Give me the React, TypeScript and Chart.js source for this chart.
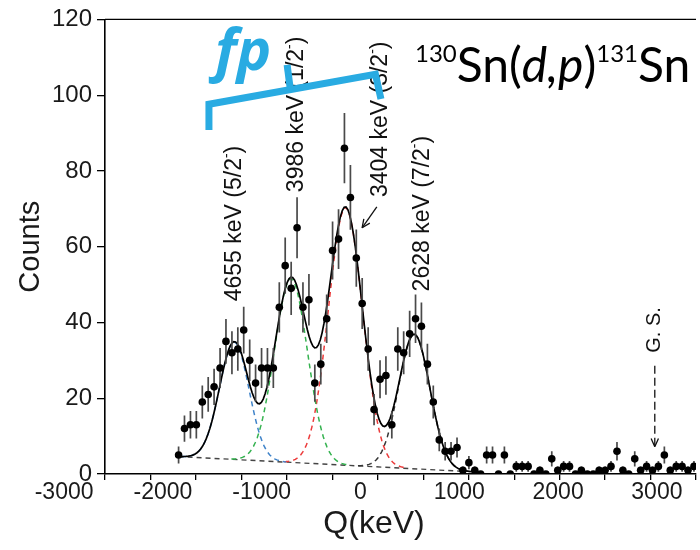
import { useEffect, useRef } from 'react';
import { Chart, registerables } from 'chart.js';

Chart.register(...registerables);

// Q-value bins (keV) of the measured spectrum
const qBins = [
  -2200, -2136, -2071, -2007, -1942, -1878, -1814, -1749, -1685, -1620,
  -1556, -1492, -1427, -1363, -1298, -1234, -1170, -1105, -1041, -976,
  -912, -848, -783, -719, -654, -590, -526, -461, -397, -332,
  -268, -204, -139, -75, -10, 54, 118, 183, 247, 312,
  376, 440, 505, 569, 634, 698, 762, 827, 891, 956,
  1020, 1084, 1149, 1213, 1278, 1342, 1406, 1471, 1535, 1600,
  1664, 1728, 1793, 1857, 1922, 1986, 2050, 2115, 2179, 2244,
  2308, 2372, 2437, 2501, 2566, 2630, 2694, 2759, 2823, 2888,
  2952, 3016, 3081, 3145, 3210, 3274, 3338, 3403,
];

// Counts per bin
const counts = [
  5, 12, 13, 13, 19, 21, 23, 28, 35, 32,
  33, 38, 30, 24, 28, 28, 28, 44, 55, 49,
  65, 44, 46, 24, 29, 41, 59, 62, 86, 73,
  57, 45, 33, 17, 25, 26, 13, 33, 32, 37,
  41, 39, 29, 19, 9, 6, 6, 7, 1, 3,
  1, 0, 5, 5, 0, 5, 0, 2, 2, 2,
  0, 1, 0, 4, 1, 2, 2, 0, 1, 0,
  0, 1, 1, 2, 6, 1, 0, 4, 1, 2,
  1, 2, 5, 1, 2, 2, 1, 2,
];

// Fitted peaks: centroid (keV), width sigma (keV), height (counts)
const peakNames = ['4655 keV', '3986 keV', '3404 keV', '2628 keV'];
const peakSpins = ['5/2', '1/2', '3/2', '7/2'];
const peakCentroids = [-1595, -978, -385, 362];
const peakSigmas = [160, 180, 185, 170];
const peakHeights = [31, 48.5, 68, 35.5];
const peakColors = ['#3f83c9', '#34b24f', '#ec3b3b', '#333333'];

// Label anchors [Q, counts] for the level names (text runs upwards from here)
const peakLabelAnchors: [number, number][] = [
  [-1591, 45.6],
  [-911, 74.4],
  [-3, 73.1],
  [450, 48.2],
];

// Linear background of the fit: [Q, counts] at both ends
const backgroundFrom = [-2200, 4.6];
const backgroundTo = [900, 0.7];

// Q axis labels
const qTickLabels = [-3000, -2000, -1000, 0, 1000, 2000, 3000];
const groundStateQ = 2977;

const FIT_STEP = 20;
const FONT = '"Liberation Sans", Arial, sans-serif';
const BLUE = '#29abe2';
const INK = '#1a1a1a';

function background(q: number) {
  const [q0, c0] = backgroundFrom;
  const [q1, c1] = backgroundTo;
  return Math.max(0, c0 + ((q - q0) * (c1 - c0)) / (q1 - q0));
}

function gauss(q: number, i: number) {
  const d = (q - peakCentroids[i]) / peakSigmas[i];
  return peakHeights[i] * Math.exp(-0.5 * d * d);
}

function fitTotal(q: number) {
  let s = background(q);
  for (let i = 0; i < peakCentroids.length; i++) s += gauss(q, i);
  return s;
}

function sampleRange(from: number, to: number, f: (q: number) => number) {
  const pts: { x: number; y: number }[] = [];
  for (let q = from; q <= to + 0.001; q += FIT_STEP) pts.push({ x: q, y: f(q) });
  return pts;
}

// Rotated label reading upwards; segments flagged true are superscripts
function drawUpLabel(ctx: CanvasRenderingContext2D, x: number, y: number, parts: [string, boolean][], size: number) {
  ctx.save();
  ctx.translate(x, y);
  ctx.rotate(-Math.PI / 2);
  ctx.textBaseline = 'middle';
  ctx.textAlign = 'left';
  let cx = 0;
  for (const [txt, sup] of parts) {
    ctx.font = `${sup ? Math.round(size * 0.6) : size}px ${FONT}`;
    ctx.fillText(txt, cx, sup ? -size * 0.32 : 0);
    cx += ctx.measureText(txt).width;
  }
  ctx.restore();
}

function arrowHead(ctx: CanvasRenderingContext2D, x0: number, y0: number, x1: number, y1: number, len: number) {
  const a = Math.atan2(y1 - y0, x1 - x0);
  ctx.beginPath();
  ctx.moveTo(x1, y1);
  ctx.lineTo(x1 - len * Math.cos(a - 0.42), y1 - len * Math.sin(a - 0.42));
  ctx.moveTo(x1, y1);
  ctx.lineTo(x1 - len * Math.cos(a + 0.42), y1 - len * Math.sin(a + 0.42));
  ctx.stroke();
}

const errorBars = {
  id: 'errorBars',
  beforeDatasetDraw(chart: any, args: any) {
    if (args.index !== 0) return;
    const { ctx, scales } = chart;
    ctx.save();
    ctx.strokeStyle = '#4a4a4a';
    ctx.lineWidth = 1.7;
    ctx.beginPath();
    qBins.forEach((q, i) => {
      const e = Math.sqrt(counts[i]);
      if (e <= 0) return;
      const x = scales.x.getPixelForValue(q);
      ctx.moveTo(x, scales.y.getPixelForValue(counts[i] + e));
      ctx.lineTo(x, scales.y.getPixelForValue(counts[i] - e));
    });
    ctx.stroke();
    ctx.restore();
  },
};

const annotations = {
  id: 'annotations',
  afterDraw(chart: any) {
    const { ctx, scales, chartArea } = chart;
    const X = (q: number) => scales.x.getPixelForValue(q);
    const Y = (c: number) => scales.y.getPixelForValue(c);

    ctx.save();
    // frame line along the top of the plot
    ctx.strokeStyle = '#000';
    ctx.lineWidth = 1.2;
    ctx.beginPath();
    ctx.moveTo(chartArea.left, chartArea.top);
    ctx.lineTo(chartArea.right, chartArea.top);
    ctx.stroke();

    // Q axis numbers, spread slightly wider than the tick marks and anchored at 3000
    ctx.fillStyle = INK;
    ctx.font = `23px ${FONT}`;
    ctx.textAlign = 'center';
    ctx.textBaseline = 'middle';
    const labelPitch = 0.0988;
    qTickLabels.forEach((v) => {
      ctx.fillText(String(v), X(3000) - (3000 - v) * labelPitch, chartArea.bottom + 19);
    });
    ctx.font = `32px ${FONT}`;
    ctx.fillText('Q(keV)', 374, chartArea.bottom + 50);

    // level labels
    ctx.fillStyle = '#111';
    peakLabelAnchors.forEach(([q, c], i) => {
      drawUpLabel(ctx, X(q), Y(c), [[`${peakNames[i]} (${peakSpins[i]}`, false], ['-', true], [')', false]], 23);
    });

    // arrow onto the 3404 keV peak
    ctx.strokeStyle = '#111';
    ctx.lineWidth = 1.3;
    ctx.beginPath();
    ctx.moveTo(X(-45), Y(70.5));
    ctx.lineTo(X(-205), Y(65));
    ctx.stroke();
    arrowHead(ctx, X(-45), Y(70.5), X(-205), Y(65), 9);

    // ground state marker
    drawUpLabel(ctx, X(groundStateQ), Y(32), [['G. S.', false]], 20);
    ctx.setLineDash([8, 4]);
    ctx.beginPath();
    ctx.moveTo(X(groundStateQ), Y(28.6));
    ctx.lineTo(X(groundStateQ), Y(7.4));
    ctx.stroke();
    ctx.setLineDash([]);
    arrowHead(ctx, X(groundStateQ), Y(20), X(groundStateQ), Y(7.2), 9);

    // fp bracket over the 4655 - 3404 keV levels
    ctx.strokeStyle = BLUE;
    ctx.lineWidth = 7;
    ctx.lineJoin = 'miter';
    ctx.beginPath();
    ctx.moveTo(X(-1870), Y(90.8));
    ctx.lineTo(X(-1870), Y(97.6));
    ctx.lineTo(X(-60), Y(105.5));
    ctx.lineTo(X(0), Y(99));
    ctx.stroke();
    ctx.beginPath();
    ctx.moveTo(X(-985), Y(101.5));
    ctx.lineTo(X(-1020), Y(108));
    ctx.stroke();

    ctx.fillStyle = BLUE;
    ctx.font = `italic bold 58px "Open Sans", ${FONT}`;
    ctx.textBaseline = 'alphabetic';
    ctx.textAlign = 'left';
    ctx.fillText('fp', 215, 70);

    // reaction label
    ctx.fillStyle = '#000';
    const big = 48;
    const small = 24;
    const base = 82;
    let tx = 415;
    const segs: [string, string, number][] = [
      ['130', `${small}px "Lato", ${FONT}`, -20],
      ['Sn(', `${big}px "Lato", ${FONT}`, 0],
      ['d,p', `italic ${big}px "Lato", ${FONT}`, 0],
      [')', `${big}px "Lato", ${FONT}`, 0],
      ['131', `${small}px "Lato", ${FONT}`, -20],
      ['Sn', `${big}px "Lato", ${FONT}`, 0],
    ];
    segs.forEach(([t, f, dy]) => {
      ctx.font = f;
      ctx.fillText(t, tx, base + dy);
      tx += ctx.measureText(t).width;
    });
    ctx.restore();
  },
};

export default function App() {
  const ref = useRef<HTMLCanvasElement>(null);

  useEffect(() => {
    const points = qBins.map((q, i) => ({ x: q, y: counts[i] }));
    const datasets: any[] = [
      {
        type: 'scatter',
        data: points,
        pointRadius: 3.8,
        pointBackgroundColor: '#000',
        pointBorderWidth: 0,
        showLine: false,
      },
      {
        type: 'line',
        data: sampleRange(-2200, 1000, fitTotal),
        borderColor: '#000',
        borderWidth: 1.7,
        pointRadius: 0,
        tension: 0,
      },
    ];
    peakCentroids.forEach((c, i) => {
      const s = peakSigmas[i];
      datasets.push({
        type: 'line',
        data: sampleRange(Math.max(-2200, c - 3.6 * s), c + 3.6 * s, (q) => background(q) + gauss(q, i)),
        borderColor: peakColors[i],
        borderWidth: 1.5,
        borderDash: [5, 4],
        pointRadius: 0,
      });
    });
    datasets.push({
      type: 'line',
      data: [
        { x: backgroundFrom[0], y: backgroundFrom[1] },
        { x: backgroundTo[0], y: backgroundTo[1] },
      ],
      borderColor: '#444',
      borderWidth: 1.4,
      borderDash: [5, 4],
      pointRadius: 0,
    });

    const chart = new Chart(ref.current as HTMLCanvasElement, {
      type: 'scatter',
      data: { datasets },
      options: {
        responsive: false,
        animation: false,
        events: [],
        layout: { padding: { top: 16, right: 0, bottom: 0, left: 0 } },
        plugins: { legend: { display: false }, tooltip: { enabled: false } },
        scales: {
          x: {
            type: 'linear',
            min: -3000,
            max: 3425,
            afterFit(s: any) {
              s.height = 76;
            },
            border: { display: true, color: '#000', width: 1.6 },
            grid: { drawOnChartArea: false, drawTicks: true, tickLength: 6, color: '#000', lineWidth: 1.3 },
            ticks: {
              display: false,
              stepSize: 500,
              autoSkip: false,
              includeBounds: false,
            },
          },
          y: {
            min: 0,
            max: 120,
            afterFit(s: any) {
              s.width = 105;
            },
            border: { display: true, color: '#000', width: 1.6 },
            grid: { drawOnChartArea: false, drawTicks: true, tickLength: 8, color: '#000', lineWidth: 1.3 },
            ticks: {
              stepSize: 20,
              color: INK,
              padding: 5,
              font: { family: FONT, size: 24 },
            },
            title: {
              display: true,
              text: 'Counts',
              color: INK,
              font: { family: FONT, size: 29 },
              padding: { top: 14, bottom: 0 },
            },
          },
        },
      },
      plugins: [errorBars, annotations],
    });
    return () => chart.destroy();
  }, []);

  return (
    <div style={{ position: 'fixed', left: 0, top: 0, width: 700, height: 550, background: '#fff' }}>
      <canvas ref={ref} width={700} height={550} style={{ display: 'block' }} />
    </div>
  );
}
